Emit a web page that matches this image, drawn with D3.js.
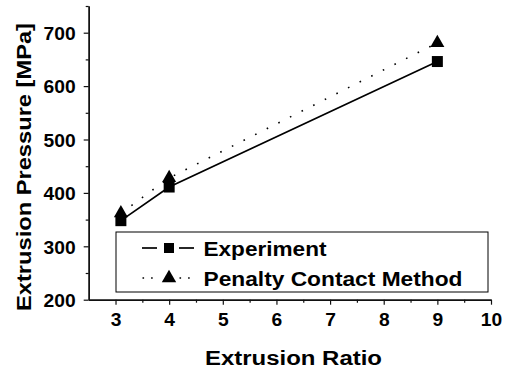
<!DOCTYPE html>
<html>
<head>
<meta charset="utf-8">
<script src="https://cdn.jsdelivr.net/npm/d3@7"></script>
<style>
  body { margin: 0; background: #fff; }
  text { font-family: "Liberation Sans", Arial, sans-serif; font-weight: bold; fill: #000; }
</style>
</head>
<body>
<div id="chart"></div>
<script>
// values
const ratios = [3.1, 4, 9];
const experiment = [348, 411, 646];
const penalty = [362, 428, 681];
const xTicks = [3, 4, 5, 6, 7, 8, 9, 10];
const yTicks = [200, 300, 400, 500, 600, 700];
const seriesNames = ["Experiment", "Penalty Contact Method"];

const width = 506, height = 371;

const svg = d3.select("#chart")
    .append("svg")
    .attr("width", width)
    .attr("height", height);

const xScale = d3.scaleLinear().domain([2.5, 10]).range([88.7, 491]);
const yScale = d3.scaleLinear().domain([200, 750]).range([299.7, 6]);

// axes
const xAxis = svg.append("g")
    .attr("transform", `translate(0, ${yScale(200)})`)
    .call(d3.axisBottom(xScale).tickValues(xTicks).tickSize(5).tickPadding(8).tickSizeOuter(0));
const xMinor = svg.append("g")
    .attr("transform", `translate(0, ${yScale(200)})`)
    .call(d3.axisBottom(xScale).tickValues(d3.range(3.5, 10, 1)).tickSize(3).tickFormat("").tickSizeOuter(0));

const yAxis = svg.append("g")
    .attr("transform", `translate(${xScale(2.5)}, 0)`)
    .call(d3.axisLeft(yScale).tickValues(yTicks).tickSize(5).tickPadding(8).tickSizeOuter(0));
const yMinor = svg.append("g")
    .attr("transform", `translate(${xScale(2.5)}, 0)`)
    .call(d3.axisLeft(yScale).tickValues(d3.range(250, 800, 100)).tickSize(3).tickFormat("").tickSizeOuter(0));

[xAxis, xMinor, yAxis, yMinor].forEach(g => {
    g.attr("font-size", null).attr("font-family", null);
    g.selectAll("path").attr("stroke", "#111").attr("stroke-width", 1.4);
    g.selectAll("line").attr("stroke", "#111").attr("stroke-width", 1.2);
});
[xAxis, yAxis].forEach(g => {
    g.selectAll("text")
        .style("font-size", "19px")
        .style("font-weight", "bold")
        .attr("fill", "#000")
        .attr("textLength", d => String(d).length * 10.7)
        .attr("lengthAdjust", "spacingAndGlyphs");
});
yAxis.selectAll("text").attr("dy", "0.36em");

// axis titles
svg.append("text")
    .attr("x", 205)
    .attr("y", 364.5)
    .style("font-size", "20px")
    .attr("textLength", 177)
    .attr("lengthAdjust", "spacingAndGlyphs")
    .text("Extrusion Ratio");

svg.append("text")
    .attr("transform", "translate(30.5, 311) rotate(-90)")
    .style("font-size", "20px")
    .attr("textLength", 288)
    .attr("lengthAdjust", "spacingAndGlyphs")
    .text("Extrusion Pressure [MPa]");

// series
const line = d3.line().x((d, i) => xScale(ratios[i])).y(d => yScale(d));

svg.append("path")
    .datum(penalty)
    .attr("d", line)
    .attr("fill", "none")
    .attr("stroke", "#000")
    .attr("stroke-width", 1.6)
    .attr("stroke-dasharray", "1.6 11.4");

svg.append("path")
    .datum(experiment)
    .attr("d", line)
    .attr("fill", "none")
    .attr("stroke", "#000")
    .attr("stroke-width", 1.7);

const square = d3.symbol().type(d3.symbolSquare).size(121);
const triangle = d3.symbol().type(d3.symbolTriangle).size(85);

svg.selectAll(".exp")
    .data(experiment)
    .enter()
    .append("path")
    .attr("class", "exp")
    .attr("d", square)
    .attr("transform", (d, i) => `translate(${xScale(ratios[i])}, ${yScale(d)})`)
    .attr("fill", "#000");

svg.selectAll(".pen")
    .data(penalty)
    .enter()
    .append("path")
    .attr("class", "pen")
    .attr("d", triangle)
    .attr("transform", (d, i) => `translate(${xScale(ratios[i])}, ${yScale(d)})`)
    .attr("fill", "#000");

// legend
const legend = svg.append("g");
legend.append("rect")
    .attr("x", 116)
    .attr("y", 232)
    .attr("width", 372)
    .attr("height", 60)
    .attr("fill", "#fff")
    .attr("stroke", "#000")
    .attr("stroke-width", 1);

const rows = [248, 278];
[[142, 157], [179, 194]].forEach(seg => {
    legend.append("line")
        .attr("x1", seg[0]).attr("x2", seg[1])
        .attr("y1", rows[0]).attr("y2", rows[0])
        .attr("stroke", "#000").attr("stroke-width", 1.7);
    legend.append("line")
        .attr("x1", seg[0] + 0.5).attr("x2", seg[1])
        .attr("y1", rows[1]).attr("y2", rows[1])
        .attr("stroke", "#000").attr("stroke-width", 1.6)
        .attr("stroke-dasharray", "1.6 7");
});
legend.append("path")
    .attr("d", d3.symbol().type(d3.symbolSquare).size(100))
    .attr("transform", `translate(169, ${rows[0]})`)
    .attr("fill", "#000");
legend.append("path")
    .attr("d", d3.symbol().type(d3.symbolTriangle).size(90))
    .attr("transform", `translate(169, ${rows[1]})`)
    .attr("fill", "#000");

const legendWidths = [123, 259];
seriesNames.forEach((name, i) => {
    legend.append("text")
        .attr("x", 203.5)
        .attr("y", rows[i] + 7.5)
        .style("font-size", "19.5px")
        .attr("textLength", legendWidths[i])
        .attr("lengthAdjust", "spacingAndGlyphs")
        .text(name);
});
</script>
</body>
</html>
